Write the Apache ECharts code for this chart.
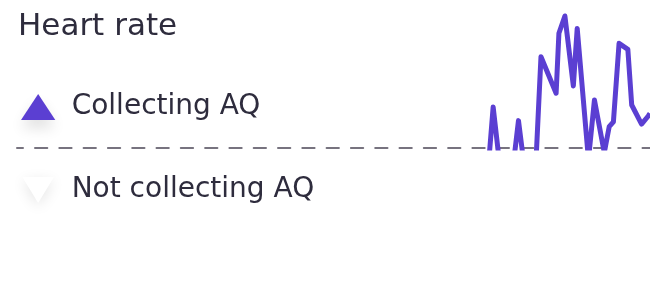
<!DOCTYPE html>
<html>
<head>
<meta charset="utf-8">
<script src="https://cdn.jsdelivr.net/npm/echarts@6/dist/echarts.min.js"></script>
<style>
  html, body { margin: 0; padding: 0; background: #ffffff; }
  #chart { width: 650px; height: 300px; }
</style>
</head>
<body>
<div id="chart"></div>
<script>
// time offsets (minutes) and heart-rate readings (bpm); values below 60 fall under the baseline and are clipped
const timeMinutes = [134.2, 135.4, 137.1, 141.3, 142.6, 144.0, 147.6, 149.0, 153.3, 154.1, 155.8, 158.2, 159.3, 162.5, 164.2, 167.0, 168.4, 169.6, 171.2, 173.7, 174.8, 177.6, 179.5, 180];
const heartRate   = [55, 77.8, 55, 55, 71.9, 55, 55, 99.7, 83.8, 109.9, 117.4, 87, 112, 55, 80.9, 58, 69.3, 71.4, 105.5, 102.9, 78.7, 70.4, 73.9, 75];
const legendNames = ['Collecting AQ', 'Not collecting AQ'];
const titleText = 'Heart rate';

const points = timeMinutes.map((t, i) => [t, heartRate[i]]);
const FONT = '"DejaVu Sans", sans-serif';
const PURPLE = '#5b3fd2';

const chart = echarts.init(document.getElementById('chart'), null, { renderer: 'canvas' });
chart.setOption({
  backgroundColor: '#ffffff',
  animation: false,
  title: {
    text: titleText,
    left: 18,
    top: 11,
    padding: 0,
    textStyle: { fontFamily: FONT, fontSize: 31, fontWeight: 'normal', color: '#2e2c3d' }
  },
  legend: {
    orient: 'vertical',
    left: 21,
    top: 93,
    padding: 0,
    itemWidth: 57,
    itemHeight: 26,
    itemGap: 55,
    symbolKeepAspect: true,
    selectedMode: false,
    textStyle: { fontFamily: FONT, fontSize: 28, color: '#2e2c3d' },
    data: [
      {
        name: legendNames[0],
        icon: 'path://M16.5,0 L33,25 L0,25 Z',
        itemStyle: { color: PURPLE, borderWidth: 0, shadowColor: 'rgba(0,0,0,0.12)', shadowBlur: 14, shadowOffsetY: 8 }
      },
      {
        name: legendNames[1],
        icon: 'path://M0,0 L34,0 L17,28 Z',
        itemStyle: { color: '#ffffff', borderWidth: 0, shadowColor: 'rgba(0,0,0,0.10)', shadowBlur: 14, shadowOffsetY: 4 }
      }
    ]
  },
  grid: { left: 17, right: 0, top: 10, bottom: 152 },
  xAxis: {
    type: 'value',
    min: 0,
    max: 180,
    axisLine: {
      show: true,
      onZero: false,
      lineStyle: { color: '#77737f', width: 2, type: [12.3, 12], dashOffset: 6.3 }
    },
    axisTick: { show: false },
    axisLabel: { show: false },
    splitLine: { show: false }
  },
  yAxis: {
    type: 'value',
    min: 60,
    max: 120,
    show: false,
    splitLine: { show: false }
  },
  series: [
    {
      name: legendNames[0],
      type: 'line',
      data: points,
      symbol: 'none',
      clip: true,
      color: PURPLE,
      lineStyle: { color: PURPLE, width: 5, join: 'round' },
      z: 3
    },
    {
      name: legendNames[1],
      type: 'line',
      data: [],
      symbol: 'none',
      color: '#ffffff'
    }
  ]
});
</script>
</body>
</html>
